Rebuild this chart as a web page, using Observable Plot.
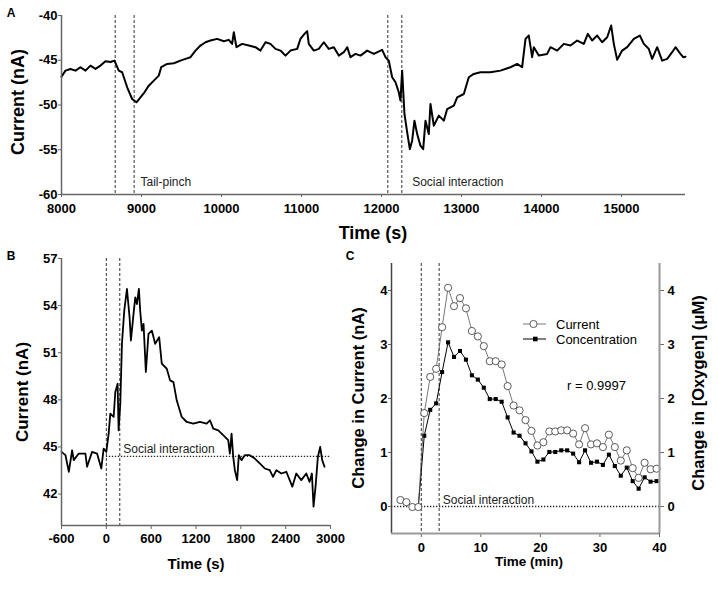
<!DOCTYPE html>
<html><head><meta charset="utf-8">
<script src="https://cdn.jsdelivr.net/npm/d3@7"></script>
<script src="https://cdn.jsdelivr.net/npm/@observablehq/plot@0.6"></script>
<style>
body{margin:0;background:#fff;}
#wrap{position:relative;width:718px;height:589px;overflow:hidden;font-family:"Liberation Sans",Arial,sans-serif;background:#fff;color:#000;}
#wrap svg{position:absolute;overflow:visible;background:none;}
.t{position:absolute;font-weight:bold;white-space:nowrap;transform:translate(-50%,-50%);line-height:1;}
.r{transform:translate(-50%,-50%) rotate(-90deg);}
.n{position:absolute;white-space:nowrap;line-height:1;font-size:13px;transform:translateY(-50%);}
g[aria-label$="tick label"] text{font-weight:bold;}
</style></head><body><div id="wrap"></div>
<script>
// ---------- Panel A data ----------
const aTime = [8000,8050,8112,8175,8237,8300,8362,8425,8487,8550,8612,8662,8716,8758,8821,8883,8937,8987,9037,9091,9154,9216,9246,9321,9404,9487,9550,9612,9675,9737,9800,9862,9946,10029,10091,10133,10154,10187,10258,10341,10425,10487,10550,10612,10675,10737,10800,10862,10946,10987,11037,11071,11091,11154,11216,11279,11341,11404,11466,11529,11571,11612,11675,11737,11821,11904,12008,12050,12091,12133,12175,12216,12237,12258,12287,12321,12354,12383,12412,12446,12487,12521,12550,12591,12612,12654,12716,12779,12821,12904,12946,13029,13091,13154,13237,13362,13487,13612,13696,13758,13800,13841,13883,13904,13966,14071,14112,14196,14279,14362,14446,14529,14579,14633,14696,14758,14821,14871,14904,14946,15008,15071,15154,15229,15279,15341,15383,15446,15508,15571,15633,15675,15737,15771,15800];
const aCurrent = [-46.83,-46.16,-45.97,-46.16,-45.78,-46.16,-45.6,-45.97,-45.6,-45.1,-45.2,-45.04,-46.16,-46.34,-48.02,-49.33,-49.7,-49.14,-48.58,-47.84,-47.28,-46.72,-45.78,-45.41,-45.34,-45.04,-44.85,-44.66,-43.92,-43.36,-42.99,-42.8,-42.61,-42.87,-42.72,-43.17,-41.87,-43.54,-43.17,-43.36,-43.54,-43.92,-42.99,-43.17,-43.73,-43.92,-44.48,-43.92,-43.73,-42.61,-42.05,-41.75,-43.17,-43.92,-43.73,-42.99,-43.73,-43.54,-44.48,-44.1,-43.54,-44.66,-44.29,-44.48,-43.92,-44.29,-43.84,-44.66,-45.04,-46.9,-47.46,-48.58,-49.51,-46.16,-51.0,-53.06,-54.93,-53.99,-51.75,-53.25,-54.55,-54.93,-51.75,-53.25,-49.89,-52.31,-51.19,-51.75,-50.45,-50.07,-49.14,-48.77,-46.9,-46.53,-46.34,-46.34,-46.16,-45.78,-45.41,-45.78,-42.61,-42.24,-44.66,-43.54,-44.48,-44.29,-43.54,-43.92,-43.17,-43.36,-42.8,-43.17,-42.05,-42.8,-42.24,-42.99,-42.43,-41.12,-43.17,-44.96,-43.92,-43.54,-42.61,-42.24,-43.17,-43.73,-44.85,-43.54,-45.04,-44.85,-44.1,-43.54,-44.29,-44.66,-44.6];
const aEvents = [8671, 8908, 12079, 12254];
const aLabels = [{x: 8987, text: "Tail-pinch"}, {x: 12383, text: "Social interaction"}];
const aXDomain = [8000, 15800];
const aYDomain = [-60, -40];
const aXTicks = [8000, 9000, 10000, 11000, 12000, 13000, 14000, 15000];
const aYTicks = [-60, -55, -50, -45, -40];

// ---------- Panel B data ----------
const bTime = [-600,-547,-502,-458,-436,-369,-280,-258,-191,-124,-67,-36,0,31,53,98,120,151,164,187,209,240,276,311,329,364,387,409,436,453,476,498,529,564,609,653,707,742,809,853,898,942,1009,1076,1164,1253,1342,1387,1431,1498,1564,1631,1653,1676,1698,1720,1751,1773,1809,1853,1920,1987,2053,2120,2187,2231,2276,2342,2409,2489,2542,2609,2676,2720,2751,2773,2800,2831,2862,2889,2920];
const bCurrent = [44.69,44.48,43.42,44.79,44.16,44.58,44.58,43.74,44.69,44.58,43.63,44.9,44.69,45.85,47.12,46.91,48.5,49.03,46.06,47.75,51.57,53.68,55.06,53.26,51.78,53.47,54.53,54.1,55.06,53.68,52.41,52.84,49.77,52.2,52.41,51.57,51.99,50.3,49.98,49.24,49.13,47.97,46.91,46.59,46.49,46.59,46.49,46.7,46.17,46.06,45.75,45.43,44.58,45.85,44.37,43.52,42.89,44.48,44.16,44.48,44.48,44.26,43.95,43.63,43.52,43.1,43.52,43.31,43.42,42.47,43.31,42.89,43.31,42.78,43.31,41.2,42.47,44.37,45.0,44.16,43.74];
const bEvents = [0, 180];
const bBaseline = [{y: 44.4, x1: 0, x2: 3000}];
const bLabel = [{x: 227, y: 44.4, text: "Social interaction"}];
const bXDomain = [-600, 3000];
const bYDomain = [40, 57];
const bXTicks = [-600, 0, 600, 1200, 1800, 2400, 3000];
const bYTicks = [42, 45, 48, 51, 54, 57];

// ---------- Panel C data ----------
const cTime = [-3.5,-2.5,-1.5,-0.5,0.5,1.5,2.5,3.5,4.5,5.5,6.5,7.5,8.5,9.5,10.5,11.5,12.5,13.5,14.5,15.5,16.5,17.5,18.5,19.5,20.5,21.5,22.5,23.5,24.5,25.5,26.5,27.5,28.5,29.5,30.5,31.5,32.5,33.5,34.5,35.5,36.5,37.5,38.5,39.5];
const cCurrent = [0.12,0.08,-0.01,-0.01,1.73,2.40,2.55,3.32,4.05,3.71,3.86,3.67,3.25,3.15,2.97,2.69,2.69,2.63,2.23,1.87,1.78,1.60,1.40,1.13,1.19,1.39,1.39,1.41,1.41,1.35,1.15,1.45,1.15,1.17,1.10,1.33,1.10,0.85,1.04,0.71,0.53,0.81,0.69,0.70];
const cConcentration = [0.10,0.07,0.0,0.0,1.31,1.79,1.91,2.49,3.04,2.77,2.88,2.72,2.43,2.35,2.20,1.99,1.99,1.94,1.65,1.37,1.31,1.17,1.02,0.83,0.87,1.01,1.01,1.04,1.04,0.98,0.82,1.04,0.81,0.83,0.77,0.96,0.75,0.57,0.72,0.47,0.33,0.54,0.46,0.47];
const cEvents = [0, 3];
const cBaseline = [0];
const cLabel = [{x: 3.6, y: 0, text: "Social interaction"}];
const cXDomain = [-5, 40];
const cYDomain = [-0.5, 4.5];
const cXTicks = [0, 10, 20, 30, 40];
const cYTicks = [0, 1, 2, 3, 4];
const cSeries = ["Current", "Concentration"];
const cR = "r = 0.9997";

const FONT = '"Liberation Sans", Arial, sans-serif';
const AX = "#666";
const wrap = document.getElementById("wrap");
const fmt = d => String(d);

function place(svg, left, top) {
  svg.style.left = left + "px";
  svg.style.top = top + "px";
  wrap.appendChild(svg);
}
function label(text, x, y, size, rotate) {
  const d = document.createElement("div");
  d.className = "t" + (rotate ? " r" : "");
  d.style.left = x + "px"; d.style.top = y + "px"; d.style.fontSize = size + "px";
  d.textContent = text;
  wrap.appendChild(d);
}

// ---------- Panel A ----------
const aData = aTime.map((t, i) => ({t, v: aCurrent[i]}));
const plotA = Plot.plot({
  width: 718, height: 250,
  marginLeft: 61, marginRight: 33, marginTop: 15, marginBottom: 56,
  style: {fontFamily: FONT, fontSize: "13px", color: "#000", background: "transparent"},
  x: {domain: aXDomain}, y: {domain: aYDomain},
  marks: [
    Plot.ruleX(aEvents, {stroke: "#333", strokeWidth: 1, strokeDasharray: "3,2"}),
    Plot.line(aData, {x: "t", y: "v", stroke: "#000", strokeWidth: 2}),
    Plot.text(aLabels, {x: "x", text: "text", frameAnchor: "bottom", textAnchor: "start", dy: -9, dx: 0, fontSize: 12, fill: "#222"}),
    Plot.axisX(aXTicks, {tickSize: 3, tickPadding: 6, tickFormat: fmt, label: null, stroke: AX, fontSize: 13}),
    Plot.axisY(aYTicks, {tickSize: 3, tickPadding: 1, tickFormat: fmt, label: null, stroke: AX, fontSize: 13}),
    Plot.ruleX([aXDomain[0]], {stroke: AX, strokeWidth: 1.5}),
    Plot.ruleY([aYDomain[0]], {stroke: AX, strokeWidth: 1.5})
  ]
});
place(plotA, 0, 0);

// ---------- Panel B ----------
const bData = bTime.map((t, i) => ({t, v: bCurrent[i]}));
const plotB = Plot.plot({
  width: 360, height: 349,
  marginLeft: 61, marginRight: 30, marginTop: 18, marginBottom: 64,
  style: {fontFamily: FONT, fontSize: "13px", color: "#000", background: "transparent"},
  x: {domain: bXDomain}, y: {domain: bYDomain},
  marks: [
    Plot.ruleX(bEvents, {stroke: "#333", strokeWidth: 1, strokeDasharray: "3,2"}),
    Plot.ruleY(bBaseline, {y: "y", x1: "x1", x2: "x2", stroke: "#222", strokeWidth: 1.3, strokeDasharray: "1.3,1.7"}),
    Plot.line(bData, {x: "t", y: "v", stroke: "#000", strokeWidth: 1.8}),
    Plot.text(bLabel, {x: "x", y: "y", text: "text", textAnchor: "start", lineAnchor: "bottom", dy: -3, fontSize: 12, fill: "#222"}),
    Plot.axisX(bXTicks, {tickSize: 4, tickPadding: 4, tickFormat: fmt, label: null, stroke: AX, fontSize: 13}),
    Plot.axisY(bYTicks, {tickSize: 3, tickPadding: 1, tickFormat: fmt, label: null, stroke: AX, fontSize: 13}),
    Plot.ruleX([bXDomain[0]], {stroke: AX, strokeWidth: 1.5}),
    Plot.ruleY([bYDomain[0]], {stroke: AX, strokeWidth: 1.5})
  ]
});
place(plotB, 0, 240);

// ---------- Panel C ----------
const cData = cTime.map((t, i) => ({t, cur: cCurrent[i], con: cConcentration[i]}));
const plotC = Plot.plot({
  width: 358, height: 349,
  marginLeft: 31, marginRight: 59, marginTop: 23, marginBottom: 56,
  style: {fontFamily: FONT, fontSize: "13px", color: "#000", background: "transparent"},
  x: {domain: cXDomain}, y: {domain: cYDomain},
  marks: [
    Plot.ruleX(cEvents, {stroke: "#333", strokeWidth: 1, strokeDasharray: "3,2"}),
    Plot.ruleY(cBaseline, {stroke: "#222", strokeWidth: 1.3, strokeDasharray: "1.3,1.7"}),
    Plot.text(cLabel, {x: "x", y: "y", text: "text", textAnchor: "start", lineAnchor: "bottom", dy: -3, fontSize: 12, fill: "#222"}),
    Plot.line(cData, {x: "t", y: "con", stroke: "#000", strokeWidth: 1}),
    Plot.dot(cData, {x: "t", y: "con", symbol: "square", r: 2.3, fill: "#000", stroke: "none"}),
    Plot.line(cData, {x: "t", y: "cur", stroke: "#555", strokeWidth: 0.8}),
    Plot.dot(cData, {x: "t", y: "cur", r: 3.6, fill: "#fff", stroke: "#333", strokeWidth: 0.8}),
    Plot.axisX(cXTicks, {tickSize: 4, tickPadding: 5, tickFormat: fmt, label: null, stroke: AX, fontSize: 13}),
    Plot.axisY(cYTicks, {anchor: "left", tickSize: 3, tickPadding: 1, tickFormat: fmt, label: null, stroke: AX, fontSize: 13}),
    Plot.axisY(cYTicks, {anchor: "right", tickSize: 4, tickPadding: 4, tickFormat: fmt, label: null, stroke: AX, fontSize: 13}),
    Plot.ruleX([cXDomain[0]], {stroke: "#444", strokeWidth: 1.5}),
    Plot.ruleX([cXDomain[1]], {stroke: "#999", strokeWidth: 2}),
    Plot.ruleY([cYDomain[0]], {stroke: "#999", strokeWidth: 2})
  ]
});
place(plotC, 360, 240);

// ---------- Titles ----------
label("A", 11, 13, 12);
label("B", 11, 256, 12);
label("C", 350, 256, 12);
label("Current (nA)", 18, 102, 18, true);
label("Time (s)", 373, 233, 18);
label("Current (nA)", 22, 392, 17, true);
label("Time (s)", 196, 563, 15);
label("Change in Current (nA)", 358, 398, 16.5, true);
label("Change in [Oxygen] (\u03bcM)", 698, 393, 16.5, true);
label("Time (min)", 529, 562, 13.5);

// ---------- Legend & r ----------
function legendItem(y, name, glyph) {
  const s = document.createElementNS("http://www.w3.org/2000/svg", "svg");
  s.setAttribute("width", 26); s.setAttribute("height", 12);
  s.style.left = "522px"; s.style.top = (y - 6) + "px";
  s.innerHTML = `<line x1="1" y1="6" x2="24" y2="6" stroke="${glyph === "circle" ? "#555" : "#000"}" stroke-width="${glyph === "circle" ? 0.8 : 1}"/>` +
    (glyph === "circle" ? `<circle cx="11.5" cy="6" r="3.6" fill="#fff" stroke="#333" stroke-width="0.8"/>` : `<rect x="11" y="3.7" width="4.6" height="4.6" fill="#000"/>`);
  wrap.appendChild(s);
  const d = document.createElement("div");
  d.className = "n"; d.style.left = "556px"; d.style.top = y + "px";
  d.textContent = name; wrap.appendChild(d);
}
legendItem(324, cSeries[0], "circle");
legendItem(339, cSeries[1], "square");
const rr = document.createElement("div");
rr.className = "n"; rr.style.left = "567px"; rr.style.top = "385px"; rr.textContent = cR;
wrap.appendChild(rr);
</script></body></html>
